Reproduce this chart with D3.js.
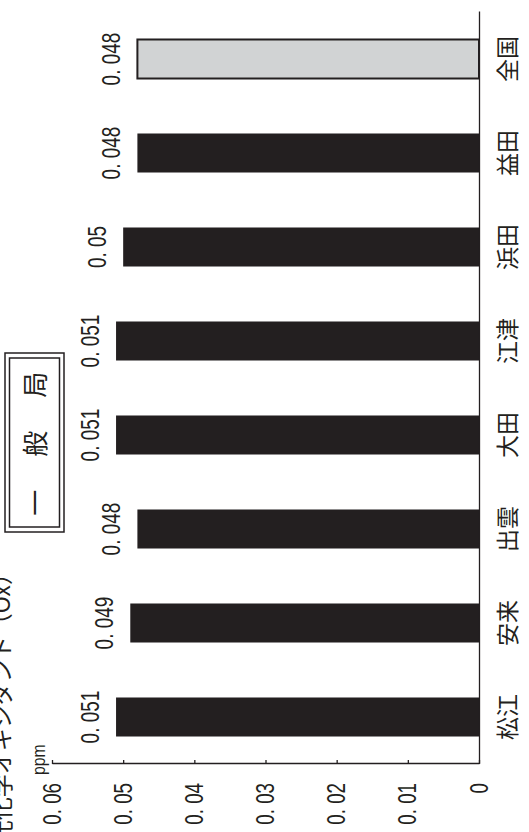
<!DOCTYPE html>
<html>
<head>
<meta charset="utf-8">
<script src="https://cdn.jsdelivr.net/npm/d3@7"></script>
<style>
  body { margin: 0; background: #fff; }
  svg { display: block; }
</style>
</head>
<body>
<div id="vis"></div>
<script>
// values (ppm)
const stations = ["松江", "安来", "出雲", "大田", "江津", "浜田", "益田", "全国"];
const values = [0.051, 0.049, 0.048, 0.051, 0.051, 0.05, 0.048, 0.048];
const valueLabels = ["0. 051", "0. 049", "0. 048", "0. 051", "0. 051", "0. 05", "0. 048", "0. 048"];
const tickValues = [0, 0.01, 0.02, 0.03, 0.04, 0.05, 0.06];
const tickLabels = ["0", "0. 01", "0. 02", "0. 03", "0. 04", "0. 05", "0. 06"];
const national = "全国";
const title = "光化学オキシダント（Ox）";
const unit = "ppm";
const legendText = "一　般　局";

const W = 529, H = 832;
const ink = "#231f20";
const numFont = "'Liberation Sans', Arial, sans-serif";
const jpFont = "'Noto Sans CJK JP', sans-serif";

const svg = d3.select("#vis").append("svg")
    .attr("width", W)
    .attr("height", H);

// the page is printed sideways: draw an upright bar chart, then turn it
const g = svg.append("g").attr("transform", `translate(0,${H}) rotate(-90)`);

const x = d3.scaleBand()
    .domain(stations)
    .range([68, 820])
    .paddingInner(0.585)
    .paddingOuter(0.2925);

const y = d3.scaleLinear()
    .domain([0, 0.06])
    .range([479, 52]);

// bars
g.selectAll(".bar")
    .data(stations)
    .enter()
    .append("rect")
    .attr("class", "bar")
    .attr("x", d => x(d))
    .attr("y", (d, i) => y(values[i]))
    .attr("width", x.bandwidth())
    .attr("height", (d, i) => y(0) - y(values[i]))
    .attr("fill", d => d === national ? "#d1d3d4" : ink)
    .attr("stroke", d => d === national ? ink : "none")
    .attr("stroke-width", 2);

// value labels over the bars
g.selectAll(".val")
    .data(stations)
    .enter()
    .append("text")
    .attr("class", "val")
    .attr("transform", (d, i) => `translate(${x(d) + x.bandwidth() / 2},${y(values[i]) - 17}) scale(0.76,1)`)
    .attr("text-anchor", "middle")
    .attr("font-family", numFont)
    .attr("font-size", 25)
    .attr("fill", ink)
    .text((d, i) => valueLabels[i]);

// value axis
const yAxis = d3.axisLeft(y)
    .tickValues(tickValues)
    .tickFormat((d, i) => tickLabels[i])
    .tickSizeInner(-4)
    .tickSizeOuter(0)
    .tickPadding(19);

const ya = g.append("g")
    .attr("transform", `translate(${x.range()[0]},0)`)
    .call(yAxis);
ya.select(".domain").attr("stroke", ink).attr("stroke-width", 1.3);
ya.selectAll(".tick line").attr("stroke", ink).attr("stroke-width", 1.3);
ya.selectAll(".tick text")
    .attr("x", null)
    .attr("transform", "translate(-19,0) scale(0.75,1)")
    .attr("font-family", numFont)
    .attr("font-size", 25)
    .attr("fill", ink);

// category axis
const xAxis = d3.axisBottom(x).tickSize(0).tickPadding(0);
const xa = g.append("g")
    .attr("transform", `translate(0,${y(0)})`)
    .call(xAxis);
xa.select(".domain").attr("stroke", ink).attr("stroke-width", 1.3);
xa.selectAll(".tick text")
    .attr("y", 37)
    .attr("dy", 0)
    .attr("font-family", jpFont)
    .attr("font-size", 23)
    .attr("fill", ink);

// unit
g.append("text")
    .attr("transform", "translate(57,45) scale(0.83,1)")
    .attr("font-family", numFont)
    .attr("font-size", 19)
    .attr("fill", ink)
    .text(unit);

// title, runs off the page edge like the scan
g.append("text")
    .attr("x", 270)
    .attr("y", 10)
    .attr("text-anchor", "end")
    .attr("font-family", jpFont)
    .attr("font-size", 23)
    .attr("fill", ink)
    .text(title);

// station type box
const box = g.append("g");
box.append("rect")
    .attr("x", 300).attr("y", 5).attr("width", 179).attr("height", 59)
    .attr("fill", "none").attr("stroke", ink).attr("stroke-width", 1.5);
box.append("rect")
    .attr("x", 305).attr("y", 9.5).attr("width", 169).attr("height", 50)
    .attr("fill", "none").attr("stroke", ink).attr("stroke-width", 1.5);
box.append("text")
    .attr("x", 390)
    .attr("y", 45)
    .attr("text-anchor", "middle")
    .attr("font-family", jpFont)
    .attr("font-size", 26)
    .attr("letter-spacing", 3.5)
    .attr("fill", ink)
    .text(legendText);
</script>
</body>
</html>
